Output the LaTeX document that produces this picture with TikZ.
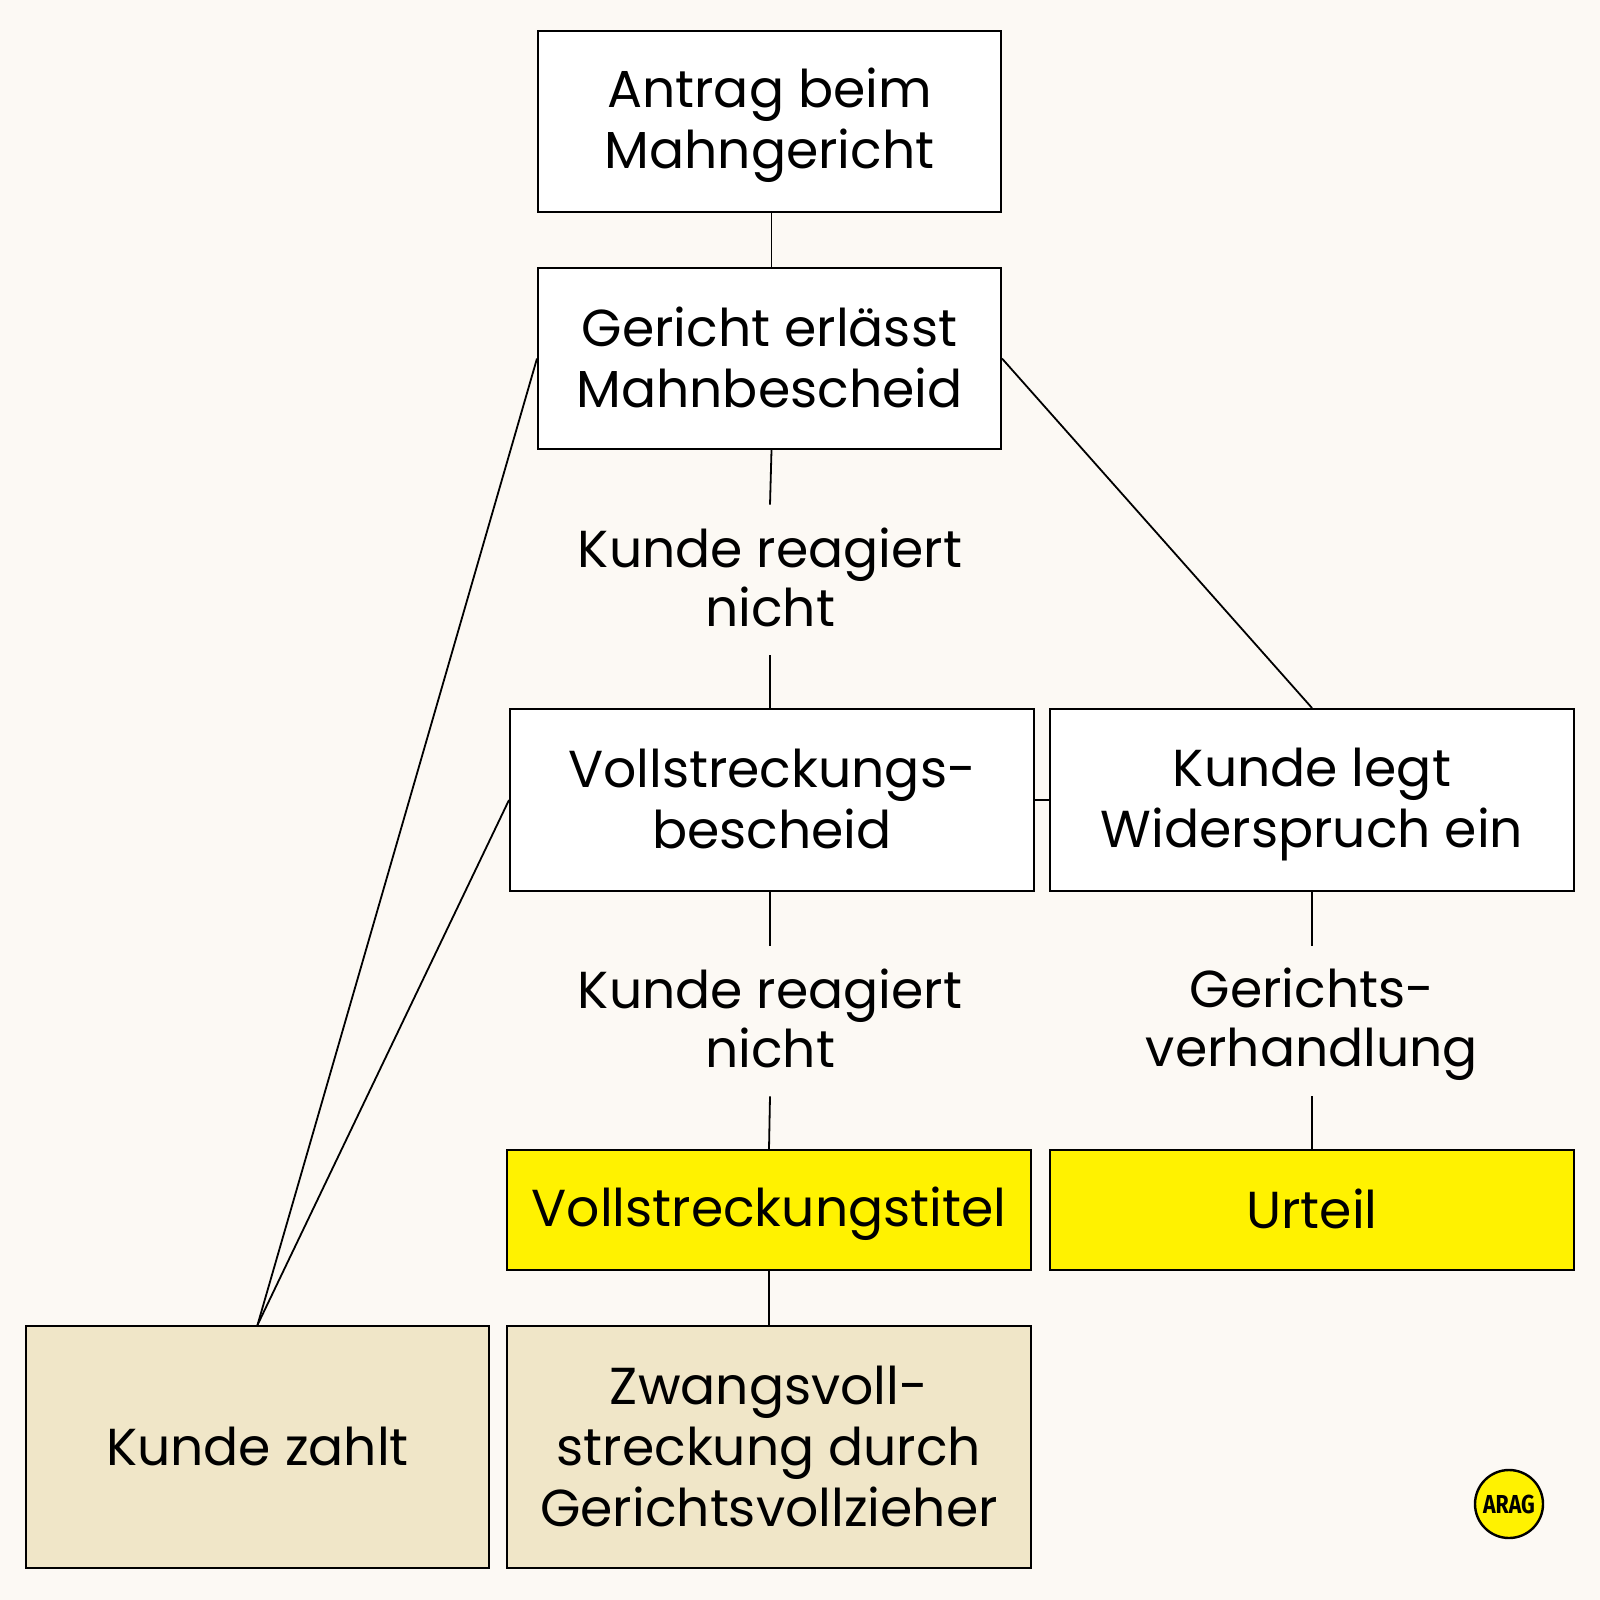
\documentclass[tikz,border=0pt]{standalone}
\usepackage{fontspec}
\setmainfont{Poppins}
\newfontfamily\logofont{Fira Sans}
\definecolor{bgc}{HTML}{FCF9F4}
\definecolor{gelb}{HTML}{FFF200}
\definecolor{sand}{HTML}{F0E6C8}
\newcommand{\topstrut}{\rule{0pt}{24pt}}
\newcommand{\botstrut}{\rule[-6pt]{0pt}{6pt}}
\newcommand{\lbstrut}{\rule{0pt}{23.2pt}}
\begin{document}
\begin{tikzpicture}[
    x=0.5pt, y=-0.5pt,
    bx/.style={draw=black, fill=white, line width=1pt, align=center, inner sep=0pt,
      font=\fontsize{26}{30.5}\selectfont, text=black},
    lb/.style={align=center, inner sep=0pt, minimum height=75pt, minimum width=200pt,
      font=\fontsize{26}{29.5}\selectfont},
    ed/.style={line width=0.9pt}
  ]
  \fill[bgc] (0,0) rectangle (1600,1600);
  \node[bx, minimum width=231.5pt, minimum height=90.5pt] (antrag) at (769.5,121.5) {\topstrut Antrag beim\\Mahngericht\botstrut};
  \node[bx, minimum width=231.5pt, minimum height=90.5pt] (bescheid) at (769.5,358.5) {\topstrut Gericht erlässt\\Mahnbescheid\botstrut};
  \node[lb] (reagiert) at (770,580) {\lbstrut Kunde reagiert\\nicht\botstrut};
  \node[bx, minimum width=262pt, minimum height=91pt] (vollst) at (772,800) {\topstrut Vollstreckungs-\\bescheid\botstrut};
  \node[bx, minimum width=262pt, minimum height=91pt] (widerspruch) at (1312,800) {\topstrut Kunde legt\\Widerspruch ein\botstrut};
  \node[lb] (reagiertb) at (770,1021) {\lbstrut Kunde reagiert\\nicht\botstrut};
  \node[lb] (verhandlung) at (1312,1021) {\lbstrut Gerichts-\\verhandlung\botstrut};
  \node[bx, fill=gelb, minimum width=262pt, minimum height=60pt] (titel) at (769,1210) {\topstrut Vollstreckungstitel\botstrut};
  \node[bx, fill=gelb, minimum width=262pt, minimum height=60pt] (urteil) at (1312,1210) {\topstrut Urteil\botstrut};
  \node[bx, fill=sand, minimum width=231.5pt, minimum height=121pt] (zahlt) at (257.5,1447) {\topstrut Kunde zahlt\botstrut};
  \node[bx, fill=sand, minimum width=262pt, minimum height=121pt] (zwang) at (769,1447) {\topstrut Zwangsvoll-\\streckung durch\\Gerichtsvollzieher\botstrut};
  \node[circle, draw=black, fill=gelb, line width=1.2pt, minimum size=34pt, inner sep=0pt,
    font=\logofont\bfseries\fontsize{13}{14}\selectfont] (logo) at (1509,1504) {\scalebox{0.82}[1]{ARAG}};
  \draw[ed] ([xshift=1pt]antrag.south) -- ([xshift=1pt]bescheid.north);
  \draw[ed] ([xshift=1pt]bescheid.south) -- (reagiert.north);
  \draw[ed] (reagiert.south) -- (vollst.north -| reagiert.south);
  \draw[ed] (bescheid.east) -- (widerspruch.north);
  \draw[ed] (bescheid.west) -- (zahlt.north);
  \draw[ed] (vollst.west) -- (zahlt.north);
  \draw[ed] (vollst.east) -- (widerspruch.west);
  \draw[ed] (vollst.south -| reagiertb.north) -- (reagiertb.north);
  \draw[ed] (reagiertb.south) -- (titel.north);
  \draw[ed] (widerspruch.south) -- (verhandlung.north);
  \draw[ed] (verhandlung.south) -- (urteil.north);
  \draw[ed] (titel.south) -- (zwang.north);
\end{tikzpicture}
\end{document}
